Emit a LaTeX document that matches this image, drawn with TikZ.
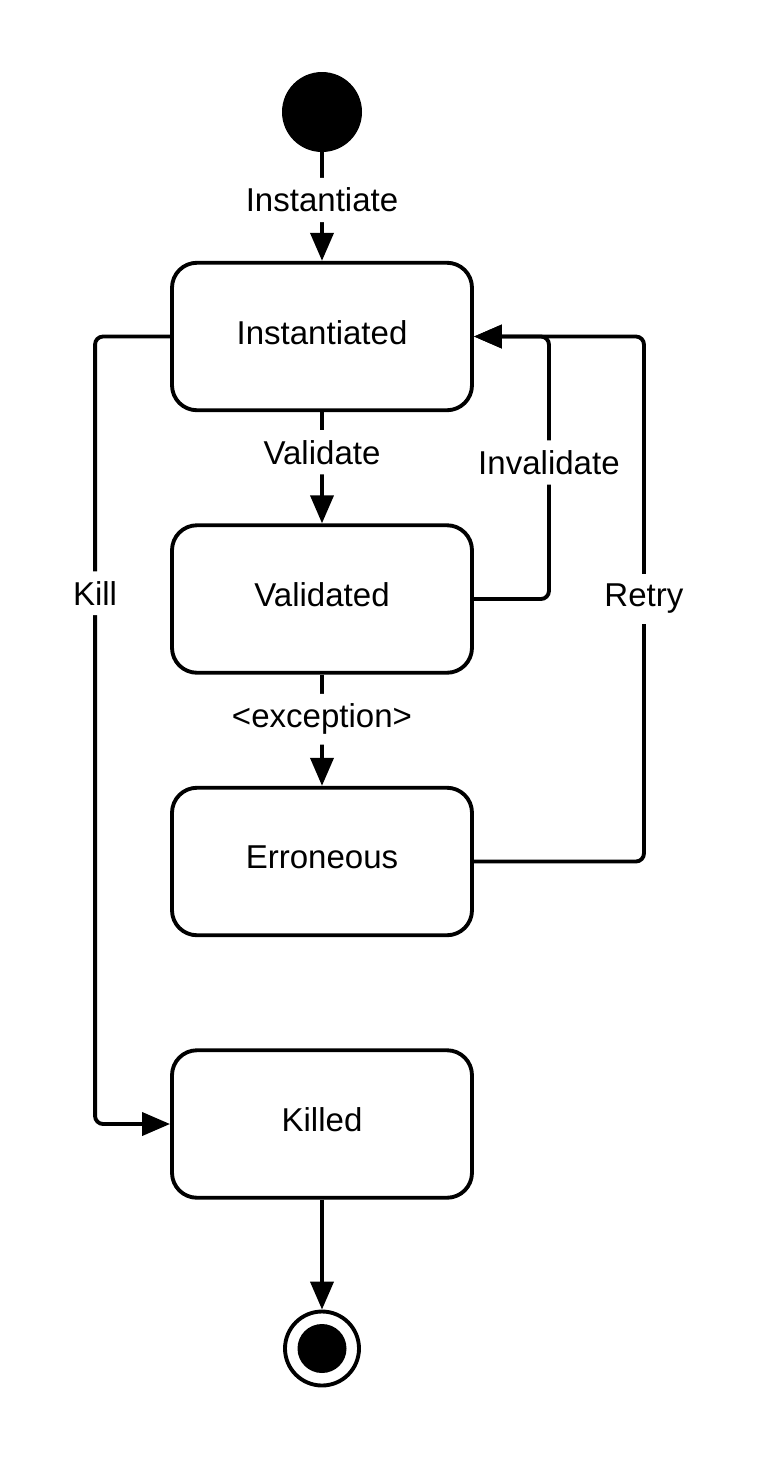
\documentclass[tikz,border=0pt]{standalone}
\usepackage{fontspec}
\setmainfont{Liberation Sans}
\usetikzlibrary{arrows.meta, positioning}
\tikzstyle{arrow} = [line width=2.2pt, -{Triangle[length=0.56cm, width=0.46cm]}, rounded corners=0.16cm]
\tikzstyle{state} = [rectangle, rounded corners=0.5cm, minimum width=6cm, minimum height=2.95cm, text depth=0.16cm, text centered, draw=black, line width=2.2pt]
\tikzstyle{initial} = [circle, fill=black, minimum size=1.6cm, inner sep=0pt]
\tikzstyle{final} = [circle, draw=black, line width=2.2pt, minimum size=1.48cm, inner sep=0pt]
\tikzstyle{finaldot} = [circle, fill=black, minimum size=0.98cm, inner sep=0pt]
\tikzstyle{trigger} = [fill=white, inner sep=0.2cm]

\begin{document}
\begin{tikzpicture}[node distance=5.25cm, font=\fontsize{18.8pt}{22pt}\selectfont]
        \useasboundingbox (0,0) rectangle (15.12,-29.26);
        \node (start) [initial] at (6.44,-2.24) {};
        \node (instantiated) [state, node distance=4.49cm, below of=start] {Instantiated};
        \node (validated) [state, below of=instantiated] {Validated};
        \node (erroneous) [state, below of=validated] {Erroneous};
        \node (killed) [state, below of=erroneous] {Killed};
        \node (stop) [final, node distance=4.49cm, below of=killed] {};
        \node (stopdot) [finaldot] at (stop) {};

        \draw [arrow] (start) -- node[trigger, pos=0.44] {Instantiate} (instantiated);
        \draw [arrow] (instantiated) -- node[trigger, pos=0.36] {Validate} (validated);
        \draw [arrow] (validated) -- node[trigger, pos=0.4] {<exception>} (erroneous);
        \draw [arrow] (validated.east) -- ++(1.5,0) |- node[trigger, pos=0.26] {Invalidate} (instantiated.east);
        \draw [arrow] (erroneous.east) -- ++(3.4,0) |- node[trigger, pos=0.25] {Retry} (instantiated.east);
        \draw [arrow] (instantiated.west) -- ++(-1.5,0) |- node[trigger, pos=0.163] {Kill} (killed.west);
        \draw [arrow] (killed) -- (stop);

        \end{tikzpicture}
\end{document}
